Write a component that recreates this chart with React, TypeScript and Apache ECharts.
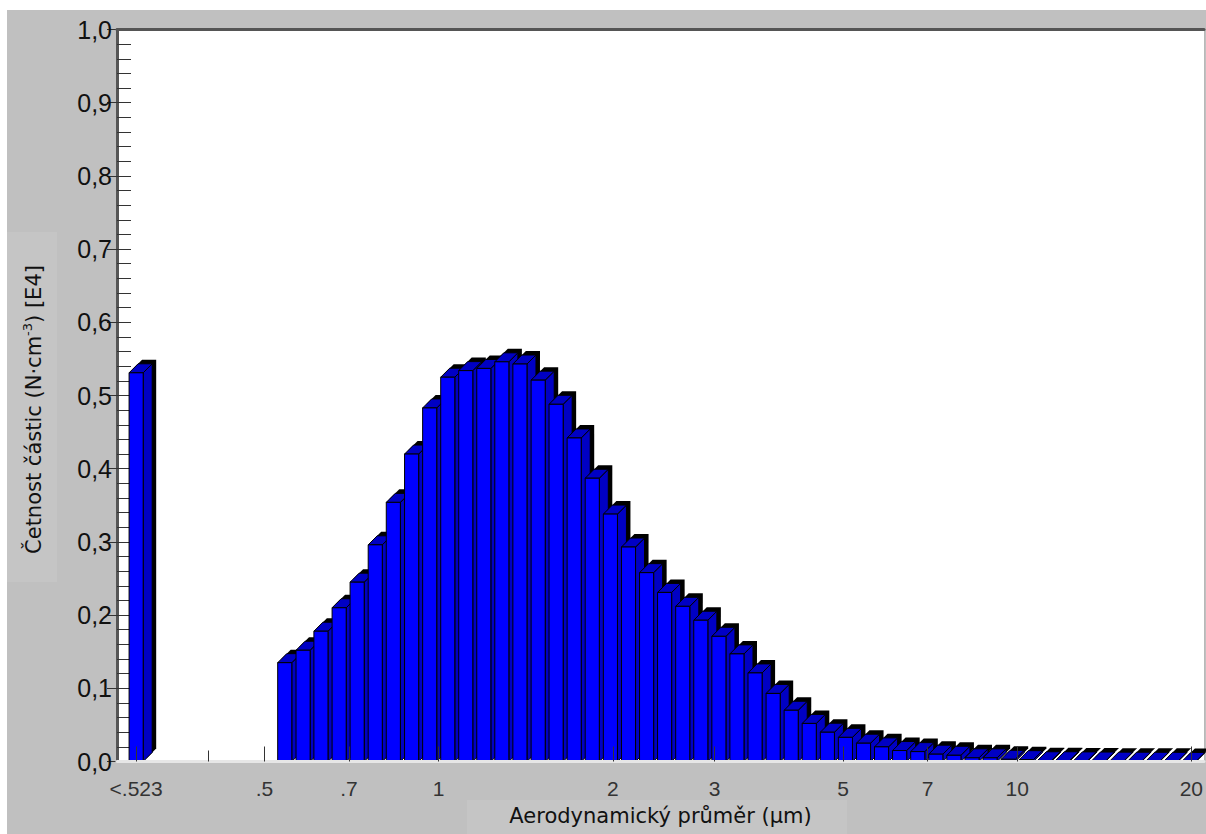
import React, { useEffect, useRef } from "react";
import * as echarts from "echarts";

// Aerodynamic diameter channel midpoints (µm)
const diameters = [
  0.542, 0.583, 0.626, 0.673, 0.723, 0.777, 0.835, 0.898, 0.965, 1.037,
  1.114, 1.197, 1.286, 1.382, 1.486, 1.596, 1.715, 1.843, 1.981, 2.129,
  2.288, 2.458, 2.642, 2.839, 3.051, 3.278, 3.523, 3.786, 4.068, 4.371,
  4.698, 5.048, 5.425, 5.829, 6.264, 6.732, 7.234, 7.774, 8.354, 8.977,
  9.647, 10.37, 11.14, 11.97, 12.86, 13.82, 14.86, 15.96, 17.15, 18.43, 19.81,
];
// Particle counts [E4 N·cm^-3]
const counts = [
  0.135, 0.152, 0.178, 0.21, 0.245, 0.296, 0.354, 0.42, 0.483, 0.525,
  0.534, 0.537, 0.546, 0.543, 0.521, 0.488, 0.442, 0.387, 0.338, 0.293,
  0.258, 0.231, 0.212, 0.193, 0.171, 0.147, 0.121, 0.093, 0.07, 0.052,
  0.04, 0.033, 0.025, 0.02, 0.015, 0.0135, 0.01, 0.0085, 0.005, 0.005,
  0.003, 0.0025, 0.001, 0.001, 0.0008, 0.0006, 0.0005, 0.0004, 0.0003, 0.0002, 0.0001,
];
// Undersize channel "<.523", drawn at the axis position 0.3 µm
const lowLabel = "<.523";
const lowPosition = 0.3;
const lowCount = 0.531;

// X axis (log of µm)
const axisMinUm = 0.278;
const axisMaxUm = 21.04;
const tickValues = [0.3, 0.5, 0.7, 1, 2, 3, 5, 7, 10, 20];
const tickLabels = [lowLabel, ".5", ".7", "1", "2", "3", "5", "7", "10", "20"];
const minorTickValues = [0.4];

// Y axis
const yMin = 0;
const yMax = 1;
const yInterval = 0.1;
const yMinorInterval = 0.02;

const xTitle = "Aerodynamický průměr (µm)";
const yTitleMain = "Četnost částic (N·cm";
const yTitleSup = "-3";
const yTitleEnd = ") [E4]";

const BIN_HALF = 1 / 64; // half channel width in log10 units (32 channels/decade)

export default function App() {
  const ref = useRef<HTMLDivElement>(null);

  useEffect(() => {
    if (!ref.current) return;
    const chart = echarts.init(ref.current, null, { renderer: "svg" });
    const lg = (v: number) => Math.log10(v);
    const tickPos = tickValues.map(lg);

    const data: number[][] = [[lg(lowPosition), lowCount]];
    diameters.forEach((d, i) => data.push([lg(d), counts[i]]));

    const DEPTH = 9;
    const SHADOW = 4;
    const FRAC = 0.78;
    const front = "#0000ff";
    const dark = "#0000c4";

    const renderItem = (params: any, api: any) => {
      const x = api.value(0) as number;
      const v = api.value(1) as number;
      const pl = api.coord([x - BIN_HALF, 0]);
      const pr = api.coord([x + BIN_HALF, 0]);
      const pt = api.coord([x, v]);
      const w = (pr[0] - pl[0]) * FRAC;
      const xl = pt[0] - w / 2;
      const xr = xl + w;
      const top = pt[1];
      const base = pl[1];
      const d = DEPTH;
      const s = SHADOW;
      return {
        type: "group",
        children: [
          {
            type: "polygon",
            shape: {
              points: [
                [xl + s, base - s],
                [xl + s, top - s],
                [xl + d + s, top - d - s],
                [xr + d + s, top - d - s],
                [xr + d + s, base - d - s],
                [xr + s, base - s],
              ],
            },
            style: { fill: "#000" },
          },
          {
            type: "polygon",
            shape: {
              points: [
                [xr, base],
                [xr, top],
                [xr + d, top - d],
                [xr + d, base - d],
              ],
            },
            style: { fill: dark, stroke: "#000", lineWidth: 1 },
          },
          {
            type: "polygon",
            shape: {
              points: [
                [xl, top],
                [xl + d, top - d],
                [xr + d, top - d],
                [xr, top],
              ],
            },
            style: { fill: dark, stroke: "#000", lineWidth: 1 },
          },
          {
            type: "rect",
            shape: { x: xl, y: top, width: w, height: base - top },
            style: { fill: front, stroke: "#000", lineWidth: 1 },
          },
        ],
      };
    };

    const labelFmt = (val: number) => {
      const i = tickPos.findIndex((p) => Math.abs(p - val) < 1e-6);
      return i >= 0 ? tickLabels[i] : "";
    };

    chart.setOption({
      animation: false,
      backgroundColor: "#c0c0c0",
      graphic: [
        { type: "rect", z: -1, shape: { x: 0, y: 222, width: 50, height: 350 }, style: { fill: "#c5c5c5" } },
        { type: "rect", z: -1, shape: { x: 460, y: 790, width: 380, height: 34 }, style: { fill: "#c5c5c5" } },
      ],
      grid: {
        left: 110,
        right: 1,
        top: 19.5,
        bottom: 72.5,
        show: true,
        backgroundColor: "#ffffff",
        borderWidth: 0,
      },
      xAxis: [
        {
          type: "value",
          position: "bottom",
          min: lg(axisMinUm),
          max: lg(axisMaxUm),
          z: 10,
          axisLine: { show: true, onZero: false, lineStyle: { color: "#e6e6e6", width: 3 } },
          axisTick: {
            show: true,
            inside: true,
            length: 15,
            customValues: tickPos,
            lineStyle: { color: "#333", width: 1 },
          },
          axisLabel: {
            show: true,
            customValues: tickPos,
            formatter: labelFmt,
            fontFamily: "Liberation Sans, Arial, sans-serif",
            fontSize: 21,
            color: "#333",
            margin: 16,
          },
          splitLine: { show: false },
          name: xTitle,
          nameLocation: "middle",
          nameGap: 44,
          nameTextStyle: { fontFamily: "DejaVu Sans", fontSize: 21, color: "#111" },
        },
        {
          type: "value",
          position: "bottom",
          min: lg(axisMinUm),
          max: lg(axisMaxUm),
          z: 10,
          axisLine: { show: false, onZero: false },
          axisTick: {
            show: true,
            inside: true,
            length: 11,
            customValues: minorTickValues.map(lg),
            lineStyle: { color: "#333", width: 1 },
          },
          axisLabel: { show: false },
          splitLine: { show: false },
        },
        {
          type: "value",
          position: "top",
          min: lg(axisMinUm),
          max: lg(axisMaxUm),
          z: 10,
          axisLine: { show: true, onZero: false, lineStyle: { color: "#555", width: 3 } },
          axisTick: { show: false },
          axisLabel: { show: false },
          splitLine: { show: false },
        },
      ],
      yAxis: [
        {
          type: "value",
          position: "left",
          min: yMin,
          max: yMax,
          interval: yInterval,
          axisLine: { show: true, onZero: false, lineStyle: { color: "#555", width: 3 } },
          axisTick: { show: true, inside: false, length: 10, lineStyle: { color: "#333", width: 1 } },
          axisLabel: {
            formatter: (v: number) => v.toFixed(1).replace(".", ","),
            fontFamily: "Liberation Sans, Arial, sans-serif",
            fontSize: 25,
            color: "#111",
            margin: 5,
          },
          splitLine: { show: false },
          name: `{t|${yTitleMain}}{s|${yTitleSup}}{t|${yTitleEnd}}`,
          nameLocation: "middle",
          nameRotate: 90,
          nameGap: 70,
          nameTextStyle: {
            padding: [0, 28, 0, 0],
            rich: {
              t: { fontFamily: "DejaVu Sans", fontSize: 21, color: "#111", lineHeight: 26 },
              s: { fontFamily: "DejaVu Sans", fontSize: 13, color: "#111", verticalAlign: "top", lineHeight: 26 },
            },
          },
        },
        {
          type: "value",
          position: "left",
          min: yMin,
          max: yMax,
          interval: yMinorInterval,
          axisLine: { show: false, onZero: false },
          axisTick: { show: true, inside: true, length: 14, lineStyle: { color: "#333", width: 1 } },
          axisLabel: { show: false },
          splitLine: { show: false },
        },
        {
          type: "value",
          position: "right",
          min: yMin,
          max: yMax,
          axisLine: { show: true, onZero: false, lineStyle: { color: "#b8b8b8", width: 1 } },
          axisTick: { show: false },
          axisLabel: { show: false },
          splitLine: { show: false },
        },
      ],
      series: [
        {
          type: "custom",
          xAxisIndex: 0,
          yAxisIndex: 0,
          z: 2,
          data,
          renderItem,
        },
      ],
    });

    return () => chart.dispose();
  }, []);

  return (
    <div
      ref={ref}
      style={{ position: "absolute", left: 7, top: 10, width: 1199, height: 824 }}
    />
  );
}
